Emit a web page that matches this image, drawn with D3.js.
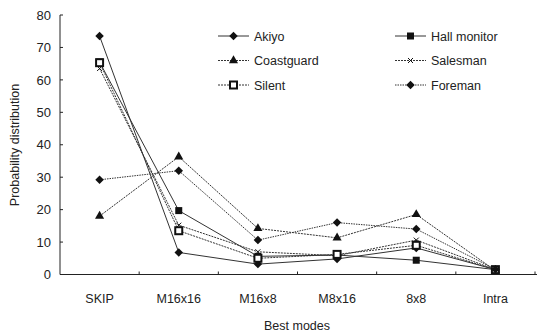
<!DOCTYPE html>
<html>
<head>
<meta charset="utf-8">
<script src="https://cdn.jsdelivr.net/npm/d3@7"></script>
<style>
  body { margin: 0; background: #fff; }
  text { font-family: "Liberation Sans", Arial, sans-serif; fill: #222; }
</style>
</head>
<body>
<div id="chart"></div>
<script>

// best modes along the x axis
var modes = ["SKIP", "M16x16", "M16x8", "M8x16", "8x8", "Intra"]

var yTicks = [0, 10, 20, 30, 40, 50, 60, 70, 80]

// probability distribution (%) per sequence
var akiyo       = [73.5, 6.8, 3.2, 4.8, 8.2, 1.5]
var hallMonitor = [65.5, 19.7, 5.6, 6.0, 4.4, 1.5]
var coastguard  = [18.0, 36.3, 14.2, 11.3, 18.5, 1.2]
var salesman    = [63.5, 15.2, 7.0, 5.8, 10.6, 1.5]
var silent      = [65.3, 13.5, 5.0, 6.2, 9.0, 1.5]
var foreman     = [29.2, 32.0, 10.6, 16.0, 14.0, 1.6]

var series = [
    { name: "Akiyo", values: akiyo, symbol: "diamond", dash: null },
    { name: "Hall monitor", values: hallMonitor, symbol: "square", dash: null },
    { name: "Coastguard", values: coastguard, symbol: "triangle", dash: "2,1" },
    { name: "Salesman", values: salesman, symbol: "cross", dash: "2,1" },
    { name: "Silent", values: silent, symbol: "open", dash: "2,1" },
    { name: "Foreman", values: foreman, symbol: "diamond", dash: "1.5,1" }
]

var width = 541, height = 336

var svg = d3.select("#chart").append("svg")
    .attr("width", width)
    .attr("height", height)

var x = d3.scaleBand().domain(modes).range([60, 535])

var y = d3.scaleLinear().domain([0, 80]).range([274.5, 15])

var cx = function(d) { return x(d) + x.bandwidth() / 2 }

// axes, ticks pointing inward
svg.append("line")
    .attr("x1", 60).attr("x2", 60)
    .attr("y1", y(80)).attr("y2", y(0))
    .attr("stroke", "#222")

svg.append("line")
    .attr("x1", 60).attr("x2", 537)
    .attr("y1", y(0)).attr("y2", y(0))
    .attr("stroke", "#222")

yTicks.forEach(function(t) {
    svg.append("line")
        .attr("x1", 60).attr("x2", 63)
        .attr("y1", y(t)).attr("y2", y(t))
        .attr("stroke", "#222")
    svg.append("text")
        .attr("x", 51)
        .attr("y", y(t))
        .attr("dy", "0.36em")
        .attr("text-anchor", "end")
        .attr("font-size", 13)
        .text(t)
})

modes.forEach(function(m, i) {
    var bx = x(m) + x.bandwidth()
    svg.append("line")
        .attr("x1", bx).attr("x2", bx)
        .attr("y1", y(0)).attr("y2", y(0) - 3)
        .attr("stroke", "#222")
    svg.append("text")
        .attr("x", cx(m))
        .attr("y", 303)
        .attr("text-anchor", "middle")
        .attr("font-size", 12.5)
        .text(m)
})

svg.append("text")
    .attr("x", 297)
    .attr("y", 330)
    .attr("text-anchor", "middle")
    .attr("font-size", 12.5)
    .text("Best modes")

svg.append("text")
    .attr("transform", "translate(19,145) rotate(-90)")
    .attr("text-anchor", "middle")
    .attr("font-size", 12.5)
    .text("Probability distribution")

var line = d3.line()
    .x(function(d, i) { return cx(modes[i]) })
    .y(function(d) { return y(d) })

function marker(g, s, px, py) {
    if (s.symbol == "diamond") {
        g.append("rect")
            .attr("x", -3).attr("y", -3)
            .attr("width", 6).attr("height", 6)
            .attr("transform", "translate(" + px + "," + py + ") rotate(45)")
            .attr("fill", "#111")
    } else if (s.symbol == "square") {
        g.append("rect")
            .attr("x", px - 3.5).attr("y", py - 3.5)
            .attr("width", 7).attr("height", 7)
            .attr("fill", "#111")
    } else if (s.symbol == "triangle") {
        g.append("path")
            .attr("d", d3.symbol(d3.symbolTriangle, 36)())
            .attr("transform", "translate(" + px + "," + py + ")")
            .attr("fill", "#111")
    } else if (s.symbol == "cross") {
        g.append("path")
            .attr("d", "M-2.5,-2.5L2.5,2.5M-2.5,2.5L2.5,-2.5")
            .attr("transform", "translate(" + px + "," + py + ")")
            .attr("stroke", "#111")
            .attr("fill", "none")
    } else {
        g.append("rect")
            .attr("x", px - 3.5).attr("y", py - 3.5)
            .attr("width", 7).attr("height", 7)
            .attr("fill", "#fff")
            .attr("stroke", "#111")
            .attr("stroke-width", 2)
    }
}

series.forEach(function(s) {
    var g = svg.append("g")
    g.append("path")
        .attr("d", line(s.values))
        .attr("fill", "none")
        .attr("stroke", "#333")
        .attr("stroke-width", 1)
        .attr("stroke-dasharray", s.dash)
    s.values.forEach(function(v, i) {
        marker(g, s, cx(modes[i]), y(v))
    })
})

// legend, two columns of three
series.forEach(function(s, i) {
    var col = i % 2, row = Math.floor(i / 2)
    var lx = col == 0 ? 218 : 395
    var ly = 36 + row * 24.5
    var g = svg.append("g")
    g.append("line")
        .attr("x1", lx).attr("x2", lx + 31)
        .attr("y1", ly).attr("y2", ly)
        .attr("stroke", "#333")
        .attr("stroke-dasharray", s.dash)
    marker(g, s, lx + 15.5, ly)
    g.append("text")
        .attr("x", lx + 36)
        .attr("y", ly)
        .attr("dy", "0.36em")
        .attr("font-size", 12.5)
        .text(s.name)
})

</script>
</body>
</html>
